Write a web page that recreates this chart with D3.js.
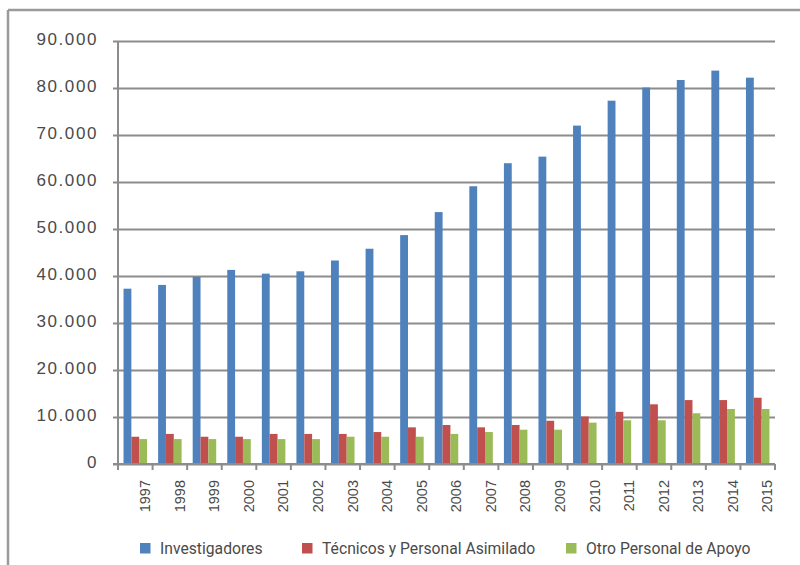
<!DOCTYPE html>
<html>
<head>
<meta charset="utf-8">
<script src="https://cdn.jsdelivr.net/npm/d3@7/dist/d3.min.js"></script>
<style>
  html, body { margin: 0; padding: 0; background: #fff; }
  svg { display: block; font-family: Roboto, "Open Sans", sans-serif; }
</style>
</head>
<body>
<svg id="chart" width="800" height="565"></svg>
<script>
const years = ["1997","1998","1999","2000","2001","2002","2003","2004","2005","2006","2007","2008","2009","2010","2011","2012","2013","2014","2015"];
const seriesNames = ["Investigadores", "Técnicos y Personal Asimilado", "Otro Personal de Apoyo"];
const investigadores = [37300, 38100, 39800, 41300, 40500, 41000, 43300, 45800, 48700, 53600, 59100, 64000, 65400, 72000, 77300, 80100, 81700, 83700, 82200];
const tecnicos = [5800, 6400, 5800, 5800, 6400, 6400, 6400, 6800, 7800, 8300, 7800, 8300, 9200, 10100, 11100, 12700, 13600, 13600, 14100];
const otro = [5300, 5300, 5300, 5300, 5300, 5300, 5800, 5800, 5800, 6400, 6800, 7300, 7300, 8800, 9300, 9300, 10800, 11700, 11700];
const yTicks = [0, 10000, 20000, 30000, 40000, 50000, 60000, 70000, 80000, 90000];
const colors = ["#4F81BD", "#C0504D", "#9BBB59"];

const seriesValues = [investigadores, tecnicos, otro];
const svg = d3.select("#chart");

// frame
svg.append("line").attr("x1", 8).attr("x2", 800).attr("y1", 10).attr("y2", 10)
  .attr("stroke", "#9a9a9a").attr("stroke-width", 2.5);
svg.append("line").attr("x1", 8).attr("x2", 8).attr("y1", 10).attr("y2", 565)
  .attr("stroke", "#9a9a9a").attr("stroke-width", 2.5);

const pLeft = 118, pRight = 775, pTop = 41, pBottom = 464;

const x = d3.scaleBand().domain(years).range([pLeft, pRight]).paddingInner(0.32).paddingOuter(0.16);
const xs = d3.scaleBand().domain([0,1,2]).range([0, x.bandwidth()]);
const y = d3.scaleLinear().domain([0, 90000]).range([pBottom, pTop]);

const fmt = d => d === 0 ? "0" : d3.format(",")(d).replace(/,/g, ".");

// gridlines + y labels
const yAxis = d3.axisLeft(y).tickValues(yTicks).tickFormat(fmt).tickSize(-(pRight - pLeft)).tickPadding(16);
const gy = svg.append("g").attr("transform", `translate(${pLeft},0)`).call(yAxis);
gy.select(".domain").remove();
gy.selectAll(".tick line").attr("stroke", "#8c8c8c").attr("stroke-width", 2).attr("x1", -5);
gy.selectAll(".tick text").attr("fill", "#4a4a4a").attr("font-size", 17)
  .attr("letter-spacing", 1.6).attr("x", -20).attr("y", -2);

// vertical axis line
svg.append("line").attr("x1", pLeft).attr("x2", pLeft).attr("y1", pTop).attr("y2", pBottom)
  .attr("stroke", "#8c8c8c").attr("stroke-width", 2);

// bars
const groups = svg.append("g").selectAll("g").data(years).join("g")
  .attr("transform", d => `translate(${x(d)},0)`);
groups.selectAll("rect").data((d, i) => seriesValues.map((s, k) => ({k, v: s[i]}))).join("rect")
  .attr("x", d => xs(d.k))
  .attr("width", xs.bandwidth())
  .attr("y", d => y(d.v))
  .attr("height", d => y(0) - y(d.v))
  .attr("fill", d => colors[d.k]);

// x axis
const xAxis = d3.axisBottom(x).tickSize(0).tickPadding(0);
const gx = svg.append("g").attr("transform", `translate(0,${pBottom})`).call(xAxis);
gx.select(".domain").attr("stroke", "#8c8c8c").attr("stroke-width", 2).attr("d", `M${pLeft - 5},0H${pRight}`);
gx.selectAll(".tick text")
  .attr("transform", "rotate(-90)")
  .attr("text-anchor", "end")
  .attr("dominant-baseline", "central")
  .attr("x", -16).attr("y", -0.5)
  .attr("font-size", 14.5)
  .attr("fill", "#4a4a4a");
// boundary ticks between categories
const boundaryX = d3.range(years.length + 1).map(i => pLeft + i * x.step());
svg.append("g").selectAll("line").data(boundaryX).join("line")
  .attr("x1", d => d).attr("x2", d => d).attr("y1", pBottom).attr("y2", pBottom + 6)
  .attr("stroke", "#8c8c8c").attr("stroke-width", 2);

// legend
const legendX = [140, 302, 566];
const lg = svg.append("g").selectAll("g").data(seriesNames).join("g")
  .attr("transform", (d, i) => `translate(${legendX[i]},548)`);
lg.append("rect").attr("x", 0).attr("y", -5).attr("width", 10.5).attr("height", 10.5)
  .attr("fill", (d, i) => colors[i]);
lg.append("text").attr("x", 20).attr("y", 0.5).attr("dominant-baseline", "central")
  .attr("font-size", 15.7).attr("fill", "#4a4a4a").text(d => d);
</script>
</body>
</html>
